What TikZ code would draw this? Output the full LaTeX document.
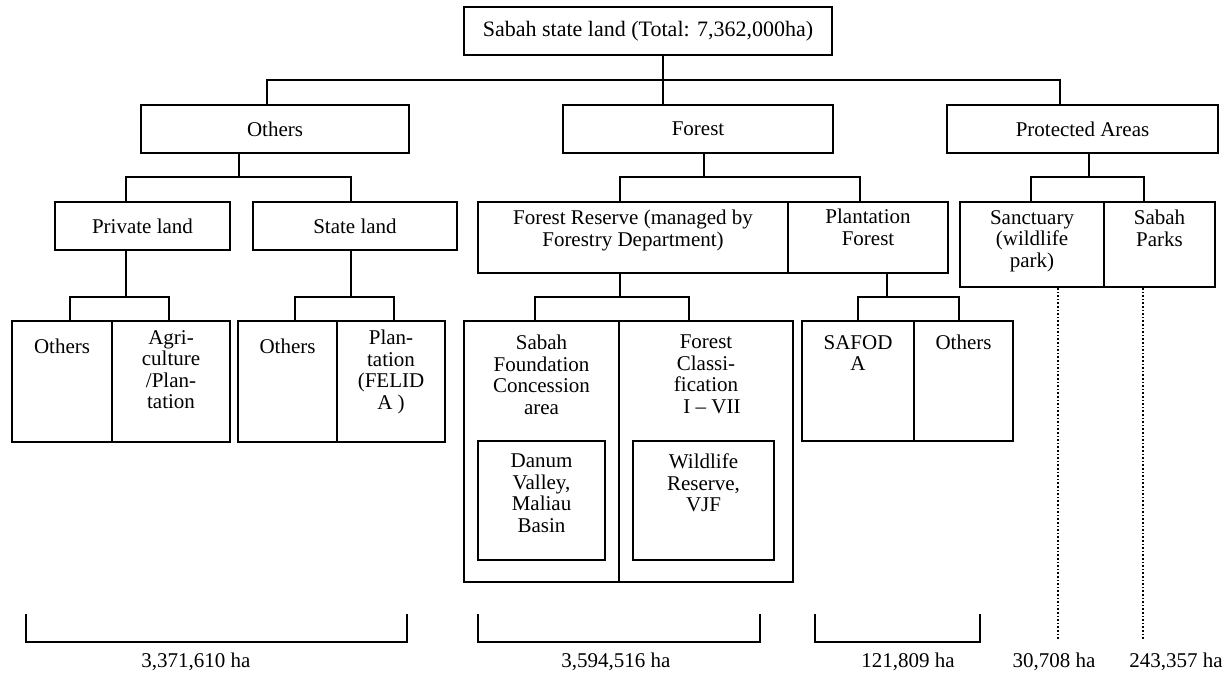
\documentclass[tikz,border=0pt]{standalone}
\usepackage{fontspec}
\setmainfont{Liberation Serif}
\usetikzlibrary{positioning}

\begin{document}
\begin{tikzpicture}[x=1pt, y=-1pt, font=\fontsize{21}{21.5}\selectfont,
    box/.style={draw, line width=2pt, inner sep=0pt},
    txt/.style={align=center, inner sep=0pt},
    link/.style={line width=2pt},
    dots/.style={line width=1.6pt, dotted},
    brk/.style={line width=2pt}]
  \useasboundingbox[fill=white] (0,0) rectangle (1231,672);

  % top and first level
  \node[box, minimum width=368pt, minimum height=48pt, font=\fontsize{22}{22}\selectfont] (S) at (648,31) {Sabah state land (Total: 7,362,000ha)};
  \node[box, minimum width=268pt, minimum height=48pt] (O) at (275,129) {Others};
  \node[box, minimum width=270pt, minimum height=48pt] (F) at (698,129) {Forest};
  \node[box, minimum width=271pt, minimum height=48pt] (P) at (1082.5,129) {Protected Areas};

  % second level
  \node[box, minimum width=175pt, minimum height=48pt] (Pl) at (142.5,226) {Private land};
  \node[box, minimum width=204pt, minimum height=48pt] (Sl) at (355,226) {State land};
  \node[box, minimum width=310pt, minimum height=71pt] (Fr) at (633,237.5) {};
  \node[box, minimum width=160pt, minimum height=71pt] (Pf) at (868,237.5) {};
  \node[box, minimum width=144pt, minimum height=85pt] (Sc) at (1032,244.5) {};
  \node[box, minimum width=111pt, minimum height=85pt] (Pk) at (1159.5,244.5) {};
  \node[txt, below=9pt of Fr.north] (Frt) {Forest Reserve (managed by\\Forestry Department)};
  \node[txt, below=8pt of Pf.north] (Pft) {Plantation\\Forest};
  \node[txt, below=9pt of Sc.north] (Sct) {Sanctuary\\(wildlife\\park)};
  \node[txt, below=9pt of Pk.north] (Pkt) {Sabah\\Parks};

  % third level
  \node[box, minimum width=100pt, minimum height=121pt] (A1) at (62,381.5) {};
  \node[box, minimum width=118pt, minimum height=121pt] (A2) at (171,381.5) {};
  \node[box, minimum width=99pt, minimum height=121pt] (B1) at (287.5,381.5) {};
  \node[box, minimum width=108pt, minimum height=121pt] (B2) at (391,381.5) {};
  \node[box, minimum width=155pt, minimum height=261pt] (C1) at (541.5,451.5) {};
  \node[box, minimum width=174pt, minimum height=261pt] (C2) at (706,451.5) {};
  \node[box, minimum width=127pt, minimum height=119pt] (D1) at (541.5,500.5) {};
  \node[box, minimum width=141pt, minimum height=119pt] (D2) at (703.5,500.5) {};
  \node[box, minimum width=112pt, minimum height=120pt] (E1) at (858,381) {};
  \node[box, minimum width=99pt, minimum height=120pt] (E2) at (963.5,381) {};
  \node[txt, below=19pt of A1.north] (A1t) {Others};
  \node[txt, below=10pt of A2.north] (A2t) {Agri-\\culture\\/Plan-\\tation};
  \node[txt, below=19pt of B1.north] (B1t) {Others};
  \node[txt, below=10pt of B2.north] (B2t) {Plan-\\tation\\(FELID\\A )};
  \node[txt, below=15pt of C1.north] (C1t) {Sabah\\Foundation\\Concession\\area};
  \node[txt, below=15pt of C2.north] (C2t) {Forest\\Classi-\\fication\\\hspace{12pt}I – VII};
  \node[txt, below=14pt of D1.north] (D1t) {Danum\\Valley,\\Maliau\\Basin};
  \node[txt, below=14pt of D2.north] (D2t) {Wildlife\\Reserve,\\VJF};
  \node[txt, below=15pt of E1.north] (E1t) {SAFOD\\A};
  \node[txt, below=15pt of E2.north] (E2t) {Others};

  % connectors
  \draw[link] (S.south -| 663,0) -- (F.north -| 663,0);
  \draw[link] (O.north -| 267,0) -- (267,80) -- (1060,80) -- (P.north -| 1060,0);
  \foreach \u/\v/\w/\x/\xa/\xb/\y in {
      O/Pl/Sl/239/126/351/177,
      F/Fr/Pf/704/620/860/177,
      P/Sc/Pk/1089/1031/1144/177,
      Pl/A1/A2/126/70/169/297,
      Sl/B1/B2/351/295/394/297,
      Fr/C1/C2/620/535/689/297,
      Pf/E1/E2/887/858/959/297}{
    \draw[link] (\u.south -| \x,0) -- (\x,\y);
    \draw[link] (\v.north -| \xa,0) -- (\xa,\y) -- (\xb,\y) -- (\w.north -| \xb,0);
  }

  % totals
  \node (n1) at (196,662) {3,371,610 ha};
  \node (n2) at (616,662) {3,594,516 ha};
  \node (n3) at (908,662) {121,809 ha};
  \node (n4) at (1054,662) {30,708 ha};
  \node (n5) at (1176,662) {243,357 ha};
  \coordinate (q1) at (1058,640);
  \coordinate (q2) at (1143,640);
  \draw[dots] (Sc.south -| q1) -- (q1);
  \draw[dots] (Pk.south -| q2) -- (q2);
  \draw[brk] (26,614) |- (407,642) -- (407,614);
  \draw[brk] (478,614) |- (760,642) -- (760,614);
  \draw[brk] (815,614) |- (980,642) -- (980,614);
\end{tikzpicture}
\end{document}
